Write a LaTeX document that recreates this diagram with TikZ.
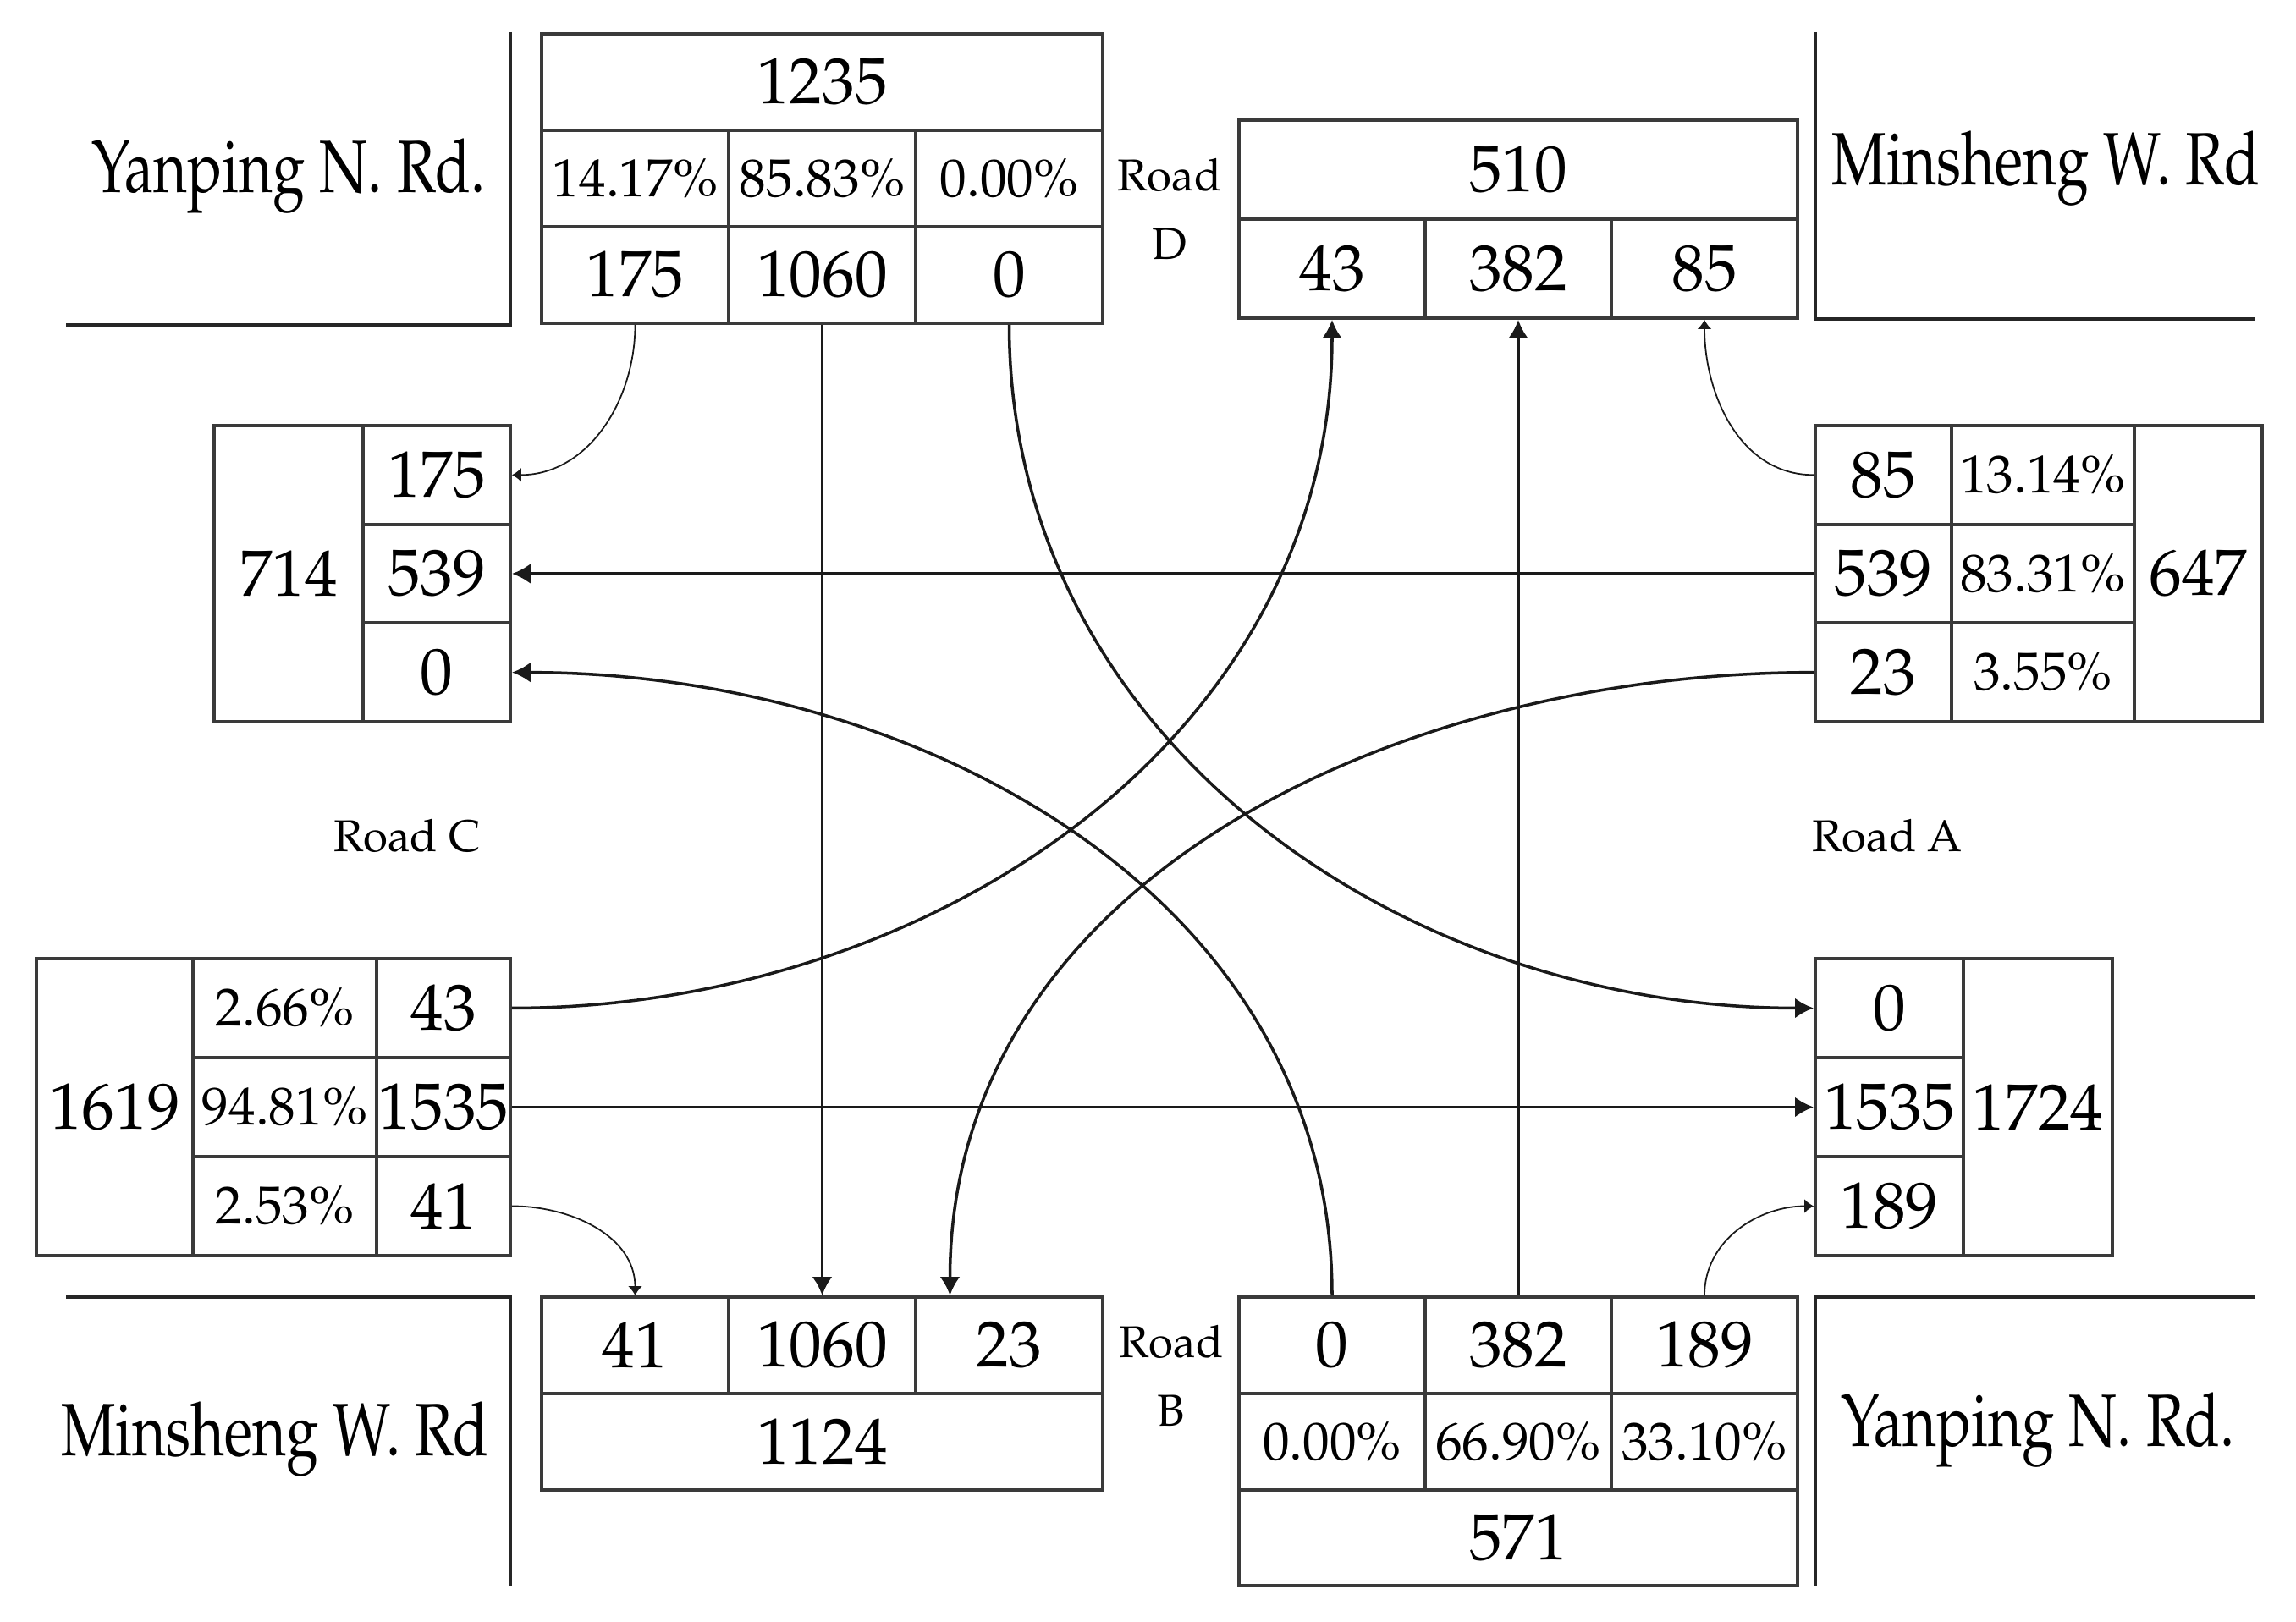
\documentclass[tikz,border=0pt]{standalone}
\usepackage[T1]{fontenc}
\usepackage{mathpazo}
\usepackage{graphicx}
\usepackage{tikz}
\usetikzlibrary{positioning,arrows.meta,calc}
\newcommand{\rdname}[1]{\scalebox{0.78}[1]{#1}}
\definecolor{cGrid}{HTML}{3A3A3A}
\definecolor{cRoad}{HTML}{262626}
\definecolor{cArrow}{HTML}{1A1A1A}
\tikzset{
  cell/.style={draw=cGrid, line width=1.1pt, inner sep=0pt,
               font=\fontsize{22}{24}\selectfont},
  pcell/.style={cell, font=\fontsize{18}{20}\selectfont},
  edge/.style={draw=cRoad, line width=1pt},
  rdlbl/.style={font=\fontsize{25}{27}\selectfont, inner sep=0pt},
  leg/.style={font=\fontsize{15}{23}\selectfont, align=center, inner sep=0pt},
  flow/.style={-{Latex[length=2.2mm,width=2.4mm]}, line width=1pt, draw=cArrow},
  turn/.style={-{Latex[length=1.1mm,width=1.7mm]}, line width=0.5pt, draw=cArrow},
}

\begin{document}
\begin{tikzpicture}
\useasboundingbox (0,0) rectangle (27.13,19.17);

% ========== ROAD EDGES AND NAMES ==========
\draw[edge] (6.03,18.79) -- (6.03,15.33) -- (0.78,15.33);
\draw[edge] (21.45,18.79) -- (21.45,15.40) -- (26.65,15.40);
\draw[edge] (0.78,3.84) -- (6.03,3.84) -- (6.03,0.42);
\draw[edge] (26.65,3.84) -- (21.45,3.84) -- (21.45,0.42);

\node[rdlbl] (nmNW) at (3.41,17.09) {\rdname{Yanping N. Rd.}};
\node[rdlbl] (nmNE) at (24.17,17.18) {\rdname{Minsheng W. Rd}};
\node[rdlbl] (nmSW) at (3.25,2.16) {\rdname{Minsheng W. Rd}};
\node[rdlbl] (nmSE) at (24.08,2.27) {\rdname{Yanping N. Rd.}};

\node[leg] (legD) at (13.82,16.70) {Road\\D};
\node[leg] (legB) at (13.84,2.91) {Road\\B};
\node[leg] (legC) at (4.81,9.29) {Road C};
\node[leg] (legA) at (22.30,9.29) {Road A};

% ========== ROAD D ==========
\node[cell, minimum width=6.63cm, minimum height=1.14cm] (dInT) at (9.715,18.20) {1235};
\foreach \v/\p [count=\i] in {175/14.17, 1060/85.83, 0/0.00} {
  \node[pcell, minimum width=2.21cm, minimum height=1.14cm] (dInP\i)
    at ({6.40+(\i-0.5)*2.21},17.06) {\p\%};
  \node[cell, minimum width=2.21cm, minimum height=1.14cm] (dInV\i)
    at ({6.40+(\i-0.5)*2.21},15.92) {\v};
}

\node[cell, minimum width=6.6cm, minimum height=1.17cm] (dOutT) at (17.94,17.165) {510};
\foreach \v [count=\i] in {43,382,85}
  \node[cell, minimum width=2.2cm, minimum height=1.17cm] (dOutV\i)
    at ({14.64+(\i-0.5)*2.2},15.995) {\v};

% ========== ROAD C ==========
\node[cell, minimum width=1.76cm, minimum height=3.5cm] (cOutT) at (3.41,12.39) {714};
\foreach \v [count=\i] in {175,539,0}
  \node[cell, minimum width=1.74cm, minimum height=1.1667cm] (cOutV\i)
    at (5.16,{14.14-(\i-0.5)*1.1667}) {\v};

\node[cell, minimum width=1.85cm, minimum height=3.51cm] (cInT) at (1.355,6.085) {1619};
\foreach \v/\p [count=\i] in {43/2.66, 1535/94.81, 41/2.53} {
  \node[pcell, minimum width=2.17cm, minimum height=1.17cm] (cInP\i)
    at (3.365,{7.84-(\i-0.5)*1.17}) {\p\%};
  \node[cell, minimum width=1.58cm, minimum height=1.17cm] (cInV\i)
    at (5.24,{7.84-(\i-0.5)*1.17}) {\v};
}

% ========== ROAD A ==========
\foreach \v/\p [count=\i] in {85/13.14, 539/83.31, 23/3.55} {
  \node[cell, minimum width=1.61cm, minimum height=1.1667cm] (aInV\i)
    at (22.255,{14.14-(\i-0.5)*1.1667}) {\v};
  \node[pcell, minimum width=2.16cm, minimum height=1.1667cm] (aInP\i)
    at (24.14,{14.14-(\i-0.5)*1.1667}) {\p\%};
}
\node[cell, minimum width=1.51cm, minimum height=3.5cm] (aInT) at (25.975,12.39) {647};

\foreach \v [count=\i] in {0,1535,189}
  \node[cell, minimum width=1.75cm, minimum height=1.17cm] (aOutV\i)
    at (22.325,{7.84-(\i-0.5)*1.17}) {\v};
\node[cell, minimum width=1.76cm, minimum height=3.51cm] (aOutT) at (24.08,6.085) {1724};

% ========== ROAD B ==========
\foreach \v [count=\i] in {41,1060,23}
  \node[cell, minimum width=2.21cm, minimum height=1.14cm] (bOutV\i)
    at ({6.40+(\i-0.5)*2.21},3.27) {\v};
\node[cell, minimum width=6.63cm, minimum height=1.14cm] (bOutT) at (9.715,2.13) {1124};

\foreach \v/\p [count=\i] in {0/0.00, 382/66.90, 189/33.10} {
  \node[cell, minimum width=2.2cm, minimum height=1.14cm] (bInV\i)
    at ({14.64+(\i-0.5)*2.2},3.27) {\v};
  \node[pcell, minimum width=2.2cm, minimum height=1.14cm] (bInP\i)
    at ({14.64+(\i-0.5)*2.2},2.13) {\p\%};
}
\node[cell, minimum width=6.6cm, minimum height=1.13cm] (bInT) at (17.94,0.995) {571};

% ========== TURNING FLOWS ==========
\draw[turn] (dInV1.south) to[out=-90,in=0] (cOutV1.east);
\draw[flow] (dInV2.south) -- (bOutV2.north);
\draw[flow] (dInV3.south) to[out=-90,in=180] (aOutV1.west);

\draw[turn] (aInV1.west) to[out=180,in=-90] (dOutV3.south);
\draw[flow] (aInV2.west) -- (cOutV2.east);
\draw[flow] (aInV3.west) to[out=180,in=90] ([xshift=-0.7cm]bOutV3.north);

\draw[flow] (cInV1.east) to[out=0,in=-90] (dOutV1.south);
\draw[flow] (cInV2.east) -- (aOutV2.west);
\draw[turn] (cInV3.east) to[out=0,in=90] (bOutV1.north);

\draw[flow] (bInV1.north) to[out=90,in=0] (cOutV3.east);
\draw[flow] (bInV2.north) -- (dOutV2.south);
\draw[turn] (bInV3.north) to[out=90,in=180] (aOutV3.west);

\end{tikzpicture}
\end{document}
